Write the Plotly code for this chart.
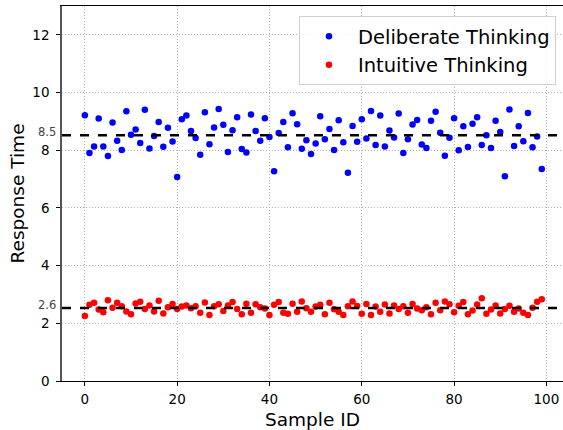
import plotly.graph_objects as go

sample_ids = list(range(100))

deliberate = [
    9.21, 7.90, 8.13, 9.10, 8.13, 7.80, 8.96, 8.33, 8.01, 9.35,
    8.54, 8.72, 8.25, 9.40, 8.06, 8.49, 8.98, 8.12, 8.78, 8.30,
    7.07, 9.07, 9.20, 8.67, 8.42, 7.84, 9.32, 8.21, 8.79, 9.43,
    8.88, 7.94, 8.69, 9.14, 8.04, 7.92, 9.24, 8.67, 8.33, 9.11,
    8.46, 7.27, 8.60, 8.98, 8.10, 9.28, 8.90, 8.05, 8.35, 7.87,
    8.23, 9.18, 8.38, 8.74, 8.01, 9.04, 8.28, 7.22, 8.84, 8.29,
    9.07, 8.41, 9.36, 8.18, 9.20, 8.13, 8.68, 8.44, 9.27, 7.90,
    8.38, 8.89, 9.05, 8.20, 8.08, 9.02, 9.33, 8.61, 7.81, 8.43,
    9.11, 8.00, 8.83, 8.11, 8.92, 9.14, 8.18, 8.52, 8.08, 9.02,
    8.63, 7.10, 9.41, 8.15, 8.83, 8.31, 9.29, 8.10, 8.48, 7.35,
]

intuitive = [
    2.25, 2.64, 2.71, 2.48, 2.38, 2.80, 2.54, 2.71, 2.59, 2.41,
    2.31, 2.69, 2.75, 2.50, 2.62, 2.41, 2.78, 2.34, 2.56, 2.67,
    2.50, 2.58, 2.62, 2.52, 2.59, 2.37, 2.72, 2.29, 2.59, 2.66,
    2.43, 2.62, 2.74, 2.50, 2.31, 2.68, 2.37, 2.66, 2.56, 2.51,
    2.29, 2.64, 2.74, 2.37, 2.33, 2.68, 2.40, 2.76, 2.52, 2.40,
    2.58, 2.64, 2.31, 2.71, 2.49, 2.40, 2.29, 2.59, 2.76, 2.60,
    2.33, 2.67, 2.29, 2.58, 2.40, 2.65, 2.34, 2.62, 2.50, 2.59,
    2.37, 2.67, 2.51, 2.45, 2.56, 2.31, 2.71, 2.45, 2.76, 2.66,
    2.38, 2.61, 2.74, 2.31, 2.44, 2.65, 2.87, 2.33, 2.48, 2.62,
    2.34, 2.50, 2.61, 2.40, 2.51, 2.37, 2.29, 2.54, 2.75, 2.83,
]

mean_lines = [8.52, 2.535]
mean_labels = ["8.5", "2.6"]

x_ticks = [0, 20, 40, 60, 80, 100]
y_ticks = [0, 2, 4, 6, 8, 10, 12]

fig = go.Figure()
fig.add_trace(go.Scatter(x=sample_ids, y=deliberate, mode="markers",
                         name="Deliberate Thinking",
                         marker=dict(color="#0000ff", size=6.5)))
fig.add_trace(go.Scatter(x=sample_ids, y=intuitive, mode="markers",
                         name="Intuitive Thinking",
                         marker=dict(color="#ff0000", size=6.5)))

for val, lab in zip(mean_lines, mean_labels):
    fig.add_shape(type="line", xref="paper", x0=0, x1=1, yref="y", y0=val, y1=val,
                  line=dict(color="black", width=2.5, dash="dash"))
    fig.add_annotation(xref="paper", x=0, yref="y", y=val, text=lab,
                       showarrow=False, xanchor="right", yanchor="middle",
                       xshift=-4, yshift=3,
                       font=dict(family="DejaVu Sans", size=11.5, color="#444444"))

fig.update_layout(
    width=563, height=430,
    margin=dict(l=62, r=0, t=6, b=49),
    paper_bgcolor="white", plot_bgcolor="white",
    font=dict(family="DejaVu Sans", color="black", size=13.5),
    showlegend=True,
    legend=dict(x=0.986, y=0.973, xanchor="right", yanchor="top",
                bgcolor="rgba(255,255,255,0.8)", bordercolor="#d0d0d0", borderwidth=1,
                font=dict(size=19.5, family="DejaVu Sans"),
                itemwidth=48, tracegroupgap=2),
)

fig.update_xaxes(
    range=[-4.95, 103.6], tickvals=x_ticks, ticktext=[str(v) for v in x_ticks],
    automargin=False,
    showgrid=True, gridcolor="#b0b0b0", griddash="1px,2px", gridwidth=1,
    zeroline=False, showline=True, linecolor="black", linewidth=1.2, mirror=True,
    ticks="outside", ticklen=4, tickcolor="black", ticklabelstandoff=2,
    title=dict(text="Sample ID", font=dict(size=18.5), standoff=6),
    tickfont=dict(size=13.5),
)
fig.update_yaxes(
    range=[0, 13], tickvals=y_ticks, ticktext=[str(v) for v in y_ticks],
    automargin=False,
    showgrid=True, gridcolor="#b0b0b0", griddash="1px,2px", gridwidth=1,
    zeroline=False, showline=True, linecolor="#555555", linewidth=1.5,
    ticks="outside", ticklen=4, tickcolor="black", ticklabelstandoff=4,
    title=dict(text="Response Time", font=dict(size=18.5), standoff=3),
    tickfont=dict(size=13.5),
)

fig.write_html("out.html", config={"displayModeBar": False},
               post_script="document.body.style.margin='0';document.body.style.overflow='hidden';")
